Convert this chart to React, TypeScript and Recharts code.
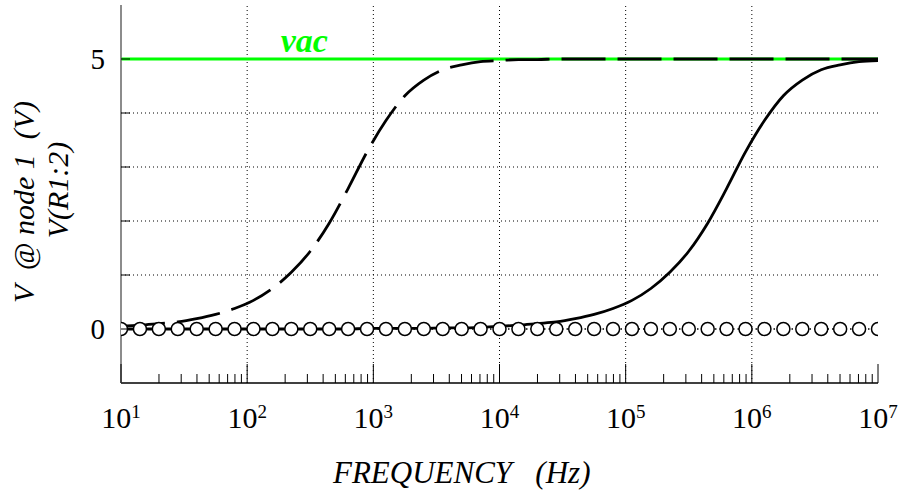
import React from 'react';
import { LineChart, Line, XAxis, YAxis, ReferenceLine, Label } from 'recharts';

// Frequencies (Hz) sampled on the plot
const freqHz = [
  10, 14.13, 19.95, 28.18, 39.81, 56.23, 79.43, 112.2, 158.5, 223.9,
  316.2, 446.7, 631.0, 891.3, 1259, 1778, 2512, 3548, 5012, 7079,
  10000, 14125, 19953, 28184, 39811, 56234, 79433, 112202, 158489, 223872,
  316228, 446684, 630957, 891251, 1258925, 1778279, 2511886, 3548134, 5011872, 7079458,
  10000000,
];

// vac source (green)
const vacV = [
  5, 5, 5, 5, 5, 5, 5, 5, 5, 5,
  5, 5, 5, 5, 5, 5, 5, 5, 5, 5,
  5, 5, 5, 5, 5, 5, 5, 5, 5, 5,
  5, 5, 5, 5, 5, 5, 5, 5, 5, 5,
  5,
];

// V @ node 1 (dashed)
const node1V = [
  0.05, 0.07, 0.10, 0.13, 0.19, 0.27, 0.38, 0.53, 0.75, 1.05,
  1.44, 1.96, 2.60, 3.28, 3.86, 4.32, 4.61, 4.80, 4.89, 4.95,
  4.97, 4.99, 4.99, 5.0, 5.0, 5.0, 5.0, 5.0, 5.0, 5.0,
  5.0, 5.0, 5.0, 5.0, 5.0, 5.0, 5.0, 5.0, 5.0, 5.0,
  5.0,
];

// V(R1:2) (solid)
const r12V = [
  0, 0, 0, 0, 0, 0, 0, 0, 0, 0,
  0, 0, 0, 0.01, 0.01, 0.01, 0.01, 0.02, 0.02, 0.03,
  0.05, 0.07, 0.10, 0.13, 0.19, 0.27, 0.38, 0.53, 0.75, 1.05,
  1.44, 1.96, 2.60, 3.28, 3.86, 4.32, 4.61, 4.80, 4.89, 4.95,
  4.97,
];

// circle-marked trace at 0
const zeroV = [
  0, 0, 0, 0, 0, 0, 0, 0, 0, 0,
  0, 0, 0, 0, 0, 0, 0, 0, 0, 0,
  0, 0, 0, 0, 0, 0, 0, 0, 0, 0,
  0, 0, 0, 0, 0, 0, 0, 0, 0, 0,
  0,
];

const majorTicks = [10, 100, 1000, 10000, 100000, 1000000, 10000000];
const tickExponents = ['1', '2', '3', '4', '5', '6', '7'];
const minorMultipliers = [2, 3, 4, 5, 6, 7, 8, 9];
const minorTicks = majorTicks.slice(0, -1).flatMap((m) => minorMultipliers.map((k) => k * m));
const allXTicks = [...majorTicks, ...minorTicks].sort((a, b) => a - b);
const gridX = [100, 1000, 10000, 100000, 1000000];
const yTicks = [0, 1, 2, 3, 4, 5];
const yLabels = [0, 5];
const gridY = [1, 2, 3, 4];

const data = freqHz.map((f, i) => ({
  f,
  vac: vacV[i],
  node1: node1V[i],
  r12: r12V[i],
  zero: zeroV[i],
}));

const FONT = '"Times New Roman", "Liberation Serif", "DejaVu Serif", serif';
const serif: React.CSSProperties = { fontFamily: FONT };

const XTick = (props: any) => {
  const { x, y, payload } = props;
  const v = payload.value;
  const idx = majorTicks.indexOf(v);
  const isMajor = idx >= 0;
  return (
    <g>
      <line x1={x} x2={x} y1={y} y2={y - (isMajor ? 19 : 9)} stroke="#000" strokeWidth={1} />
      {isMajor && (
        <text x={x} y={y + 45} textAnchor="middle" style={serif} fontSize={30} fill="#000">
          <tspan style={serif}>10</tspan>
          <tspan dy={-10} fontSize={19} style={serif}>{tickExponents[idx]}</tspan>
        </text>
      )}
    </g>
  );
};

const YTick = (props: any) => {
  const { x, y, payload } = props;
  const v = payload.value;
  return (
    <g>
      <line x1={x} x2={x + 9} y1={y} y2={y} stroke="#000" strokeWidth={1} />
      {yLabels.includes(v) && (
        <text x={x - 16} y={y + 10} textAnchor="end" style={serif} fontSize={29} fill="#000">
          {String(v)}
        </text>
      )}
    </g>
  );
};

const VacLabel = (props: any) => {
  const { x, y, index } = props;
  if (index !== 10) return <g />;
  return (
    <text x={x - 6} y={y - 7} textAnchor="middle" style={serif} fontStyle="italic" fontWeight="bold" fontSize={34} fill="#00ff00">
      vac
    </text>
  );
};

const XTitle = (props: any) => {
  const vb = props.viewBox || { x: 121, y: 383 };
  return (
    <text x={vb.x + 212} y={vb.y + 100} textAnchor="start" fontStyle="italic" fontSize={31} fill="#000" style={{ whiteSpace: 'pre', fontFamily: FONT }}>
      {'FREQUENCY   (Hz)'}
    </text>
  );
};

const YTitle = (props: any) => {
  const vb = props.viewBox || { x: 0, y: 5 };
  const x1 = vb.x + 34;
  const y1 = vb.y + 197;
  const x2 = vb.x + 68;
  const y2 = vb.y + 185;
  return (
    <g>
      <text x={x1} y={y1} transform={`rotate(-90, ${x1}, ${y1})`} textAnchor="middle" fontStyle="italic" fontSize={30} fill="#000" style={{ whiteSpace: 'pre', fontFamily: FONT }}>
        {'V  @ node 1  (V)'}
      </text>
      <text x={x2} y={y2} transform={`rotate(-90, ${x2}, ${y2})`} textAnchor="middle" fontStyle="italic" fontSize={30} fill="#000" style={serif}>
        {'V(R1:2)'}
      </text>
    </g>
  );
};

export default function App() {
  return (
    <div style={{ position: 'absolute', left: 0, top: 0, width: 900, height: 491, background: '#fff', fontFamily: FONT }}>
      <LineChart width={900} height={491} data={data} margin={{ top: 5, right: 22, bottom: 0, left: 0 }} style={serif}>
        <XAxis
          dataKey="f"
          type="number"
          scale="log"
          domain={[10, 10000000]}
          allowDataOverflow
          ticks={allXTicks}
          interval={0}
          tick={<XTick />}
          tickLine={false}
          tickSize={0}
          tickMargin={0}
          height={108}
          axisLine={{ stroke: '#000', strokeWidth: 1.5 }}
        >
          <Label content={<XTitle />} />
        </XAxis>
        <XAxis
          xAxisId="top"
          orientation="top"
          dataKey="f"
          type="number"
          scale="log"
          domain={[10, 10000000]}
          allowDataOverflow
          height={0}
          tick={false}
          tickLine={false}
          axisLine={{ stroke: '#666', strokeWidth: 1.5 }}
        />
        <YAxis
          type="number"
          domain={[-1, 6]}
          allowDataOverflow
          ticks={yTicks}
          interval={0}
          tick={<YTick />}
          tickLine={false}
          tickSize={0}
          tickMargin={0}
          width={121}
          axisLine={{ stroke: '#666', strokeWidth: 1.5 }}
        >
          <Label content={<YTitle />} />
        </YAxis>
        <YAxis
          yAxisId="right"
          orientation="right"
          type="number"
          domain={[-1, 6]}
          allowDataOverflow
          width={0}
          tick={false}
          tickLine={false}
          axisLine={{ stroke: '#000', strokeWidth: 1.5 }}
        />
        {gridX.map((v) => (
          <ReferenceLine key={'gx' + v} x={v} stroke="#000" strokeWidth={1} strokeDasharray="1 3" />
        ))}
        {gridY.map((v) => (
          <ReferenceLine key={'gy' + v} y={v} stroke="#000" strokeWidth={1} strokeDasharray="1 3" />
        ))}
        <Line
          dataKey="vac"
          type="linear"
          stroke="#00ff00"
          strokeWidth={3}
          dot={false}
          activeDot={false}
          isAnimationActive={false}
          label={<VacLabel />}
        />
        <Line
          dataKey="node1"
          type="monotone"
          stroke="#000"
          strokeWidth={2.8}
          strokeDasharray="44 12"
          dot={false}
          activeDot={false}
          isAnimationActive={false}
        />
        <Line
          dataKey="r12"
          type="monotone"
          stroke="#000"
          strokeWidth={2.8}
          dot={false}
          activeDot={false}
          isAnimationActive={false}
        />
        <Line
          dataKey="zero"
          type="linear"
          stroke="#000"
          strokeWidth={1.4}
          strokeDasharray="1.5 3"
          dot={{ r: 6.5, fill: '#fff', stroke: '#000', strokeWidth: 1.5, strokeDasharray: '0' }}
          activeDot={false}
          isAnimationActive={false}
        />
      </LineChart>
    </div>
  );
}
